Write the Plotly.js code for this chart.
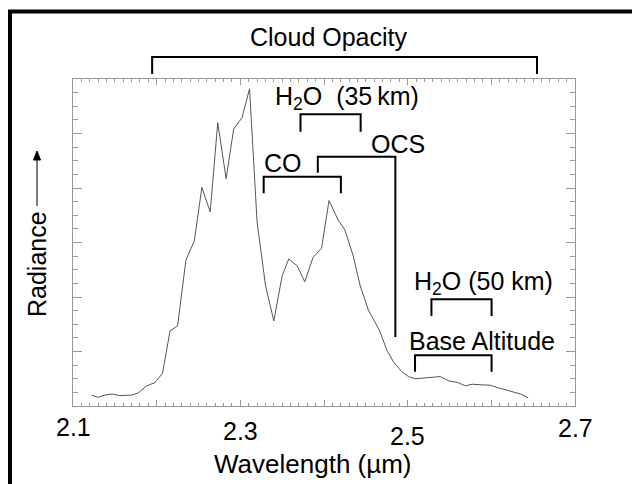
<!DOCTYPE html>
<html>
<head>
<meta charset="utf-8">
<script src="https://cdn.plot.ly/plotly-3.0.1.min.js"></script>
<style>html,body{margin:0;padding:0;background:#fff;}#chart{width:632px;height:484px;}</style>
</head>
<body>
<div id="chart"></div>
<script>
// Spectrum: wavelength (µm) and radiance (arbitrary units)
const wavelength = [2.122,2.130,2.138,2.147,2.156,2.163,2.170,2.178,2.188,2.198,2.207,2.216,2.225,2.235,2.245,2.254,2.264,2.273,2.283,2.292,2.302,2.311,2.320,2.330,2.340,2.350,2.358,2.368,2.377,2.387,2.397,2.406,2.417,2.425,2.435,2.443,2.453,2.461,2.467,2.475,2.483,2.493,2.501,2.509,2.519,2.529,2.539,2.549,2.560,2.569,2.577,2.587,2.599,2.607,2.619,2.629,2.635,2.644];
const radiance = [0.20,0.16,0.20,0.22,0.19,0.19,0.20,0.24,0.37,0.43,0.60,1.38,1.47,2.68,3.03,4.01,3.56,5.20,4.17,5.08,5.29,5.82,3.38,2.22,1.56,2.39,2.70,2.57,2.28,2.73,2.89,3.77,3.41,3.23,2.75,2.22,1.76,1.54,1.36,1.03,0.81,0.63,0.54,0.50,0.51,0.52,0.54,0.46,0.43,0.37,0.40,0.39,0.38,0.34,0.29,0.24,0.22,0.15];

// Tick labels
const tickValues = [2.1, 2.3, 2.5, 2.7];
const tickLabels = ["2.1", "2.3", "2.5", "2.7"];

// Spectral band brackets (µm)
const bandNames = ["Cloud Opacity", "H2O (35 km)", "OCS", "CO", "H2O (50 km)", "Base Altitude"];
const bandStart = [2.1946, 2.3719, 2.3926, 2.3279, 2.5284, 2.5088];
const bandEnd   = [2.6546, 2.4438, 2.4853, 2.4202, 2.6003, 2.6003];

const xRange = [2.1, 2.7];
const yRange = [0, 6];

// plot-area geometry (pixels)
const L = 73, T = 79, W = 502, H = 327;
const pX = px => (px - L) / W;
const pY = py => (T + H - py) / H;
const wX = w => (w - xRange[0]) / (xRange[1] - xRange[0]);

// bracket vertical geometry: [top y, left leg bottom, right leg bottom] in px
const bracketY = [[57,74,74],[114.3,131.7,131.7],[156.7,172.7,337],[176.7,193.3,193.3],[299.3,316,316],[355.3,371.7,371.7]];

const shapes = [];
bandStart.forEach((s, i) => {
  const [yt, yl, yr] = bracketY[i];
  const x0 = wX(s), x1 = wX(bandEnd[i]);
  shapes.push({type:'path', xref:'paper', yref:'paper',
    path:`M ${x0},${pY(yl)} L ${x0},${pY(yt)} L ${x1},${pY(yt)} L ${x1},${pY(yr)}`,
    line:{color:'#000', width:2}});
});
// outer frame
shapes.push({type:'rect', xref:'paper', yref:'paper', x0:pX(10), y0:pY(700), x1:pX(900), y1:pY(11.5),
  line:{color:'#000', width:4}, fillcolor:'rgba(0,0,0,0)'});
// radiance arrow (shaft + head)
shapes.push({type:'line', xref:'paper', yref:'paper', x0:pX(37), x1:pX(37), y0:pY(206), y1:pY(158),
  line:{color:'#000', width:1}});
shapes.push({type:'path', xref:'paper', yref:'paper',
  path:`M ${pX(33.5)},${pY(160)} L ${pX(37)},${pY(151)} L ${pX(40.5)},${pY(160)} Z`,
  fillcolor:'#000', line:{color:'#000', width:1}});

const F = {family:'Liberation Sans, Arial, sans-serif', size:25, color:'#000'};
const ann = (text, px, py, extra) => Object.assign({text, xref:'paper', yref:'paper', x:pX(px), y:pY(py),
  xanchor:'center', yanchor:'middle', showarrow:false, font:F}, extra || {});

const annotations = [
  ann('Cloud Opacity', 329, 37),
  ann('H<sub>2</sub>O\u00a0\u00a0(35\u2009km)', 346.5, 98),
  ann('OCS', 398, 144),
  ann('CO', 283, 163),
  ann('H<sub>2</sub>O (50 km)', 483, 283),
  ann('Base Altitude', 482, 340.5),
  ann('Wavelength (\u00b5m)', 313, 464, {font:Object.assign({}, F, {size:26})}),
  ann('Radiance', 37, 264, {textangle:-90})
];
const tickY = [427, 431, 436, 428];
tickValues.forEach((v, i) => {
  annotations.push({text:tickLabels[i], xref:'x', yref:'paper', x:v, y:pY(tickY[i]),
    xanchor:'center', yanchor:'middle', showarrow:false, font:F});
});

const axisCommon = {showline:true, linecolor:'#999', linewidth:1, mirror:'ticks', ticks:'inside',
  tickcolor:'#999', tickwidth:1, showgrid:false, zeroline:false, showticklabels:false, fixedrange:true};

const layout = {
  width:632, height:484,
  margin:{l:L, r:632-L-W, t:T, b:484-T-H, pad:0},
  paper_bgcolor:'#fff', plot_bgcolor:'#fff',
  showlegend:false,
  xaxis:Object.assign({}, axisCommon, {range:xRange, tick0:2.1, dtick:0.1, ticklen:6,
    minor:{dtick:0.01, tick0:2.1, ticks:'inside', ticklen:3, tickcolor:'#999', tickwidth:1, showgrid:false}}),
  yaxis:Object.assign({}, axisCommon, {range:yRange, tick0:0, dtick:1, ticklen:9,
    minor:{dtick:0.25, tick0:0, ticks:'inside', ticklen:5, tickcolor:'#999', tickwidth:1, showgrid:false}}),
  shapes, annotations
};

const trace = {x:wavelength, y:radiance, type:'scatter', mode:'lines',
  line:{color:'#555', width:1}, hoverinfo:'skip'};

Plotly.newPlot('chart', [trace], layout, {staticPlot:true, displayModeBar:false});
</script>
</body>
</html>
